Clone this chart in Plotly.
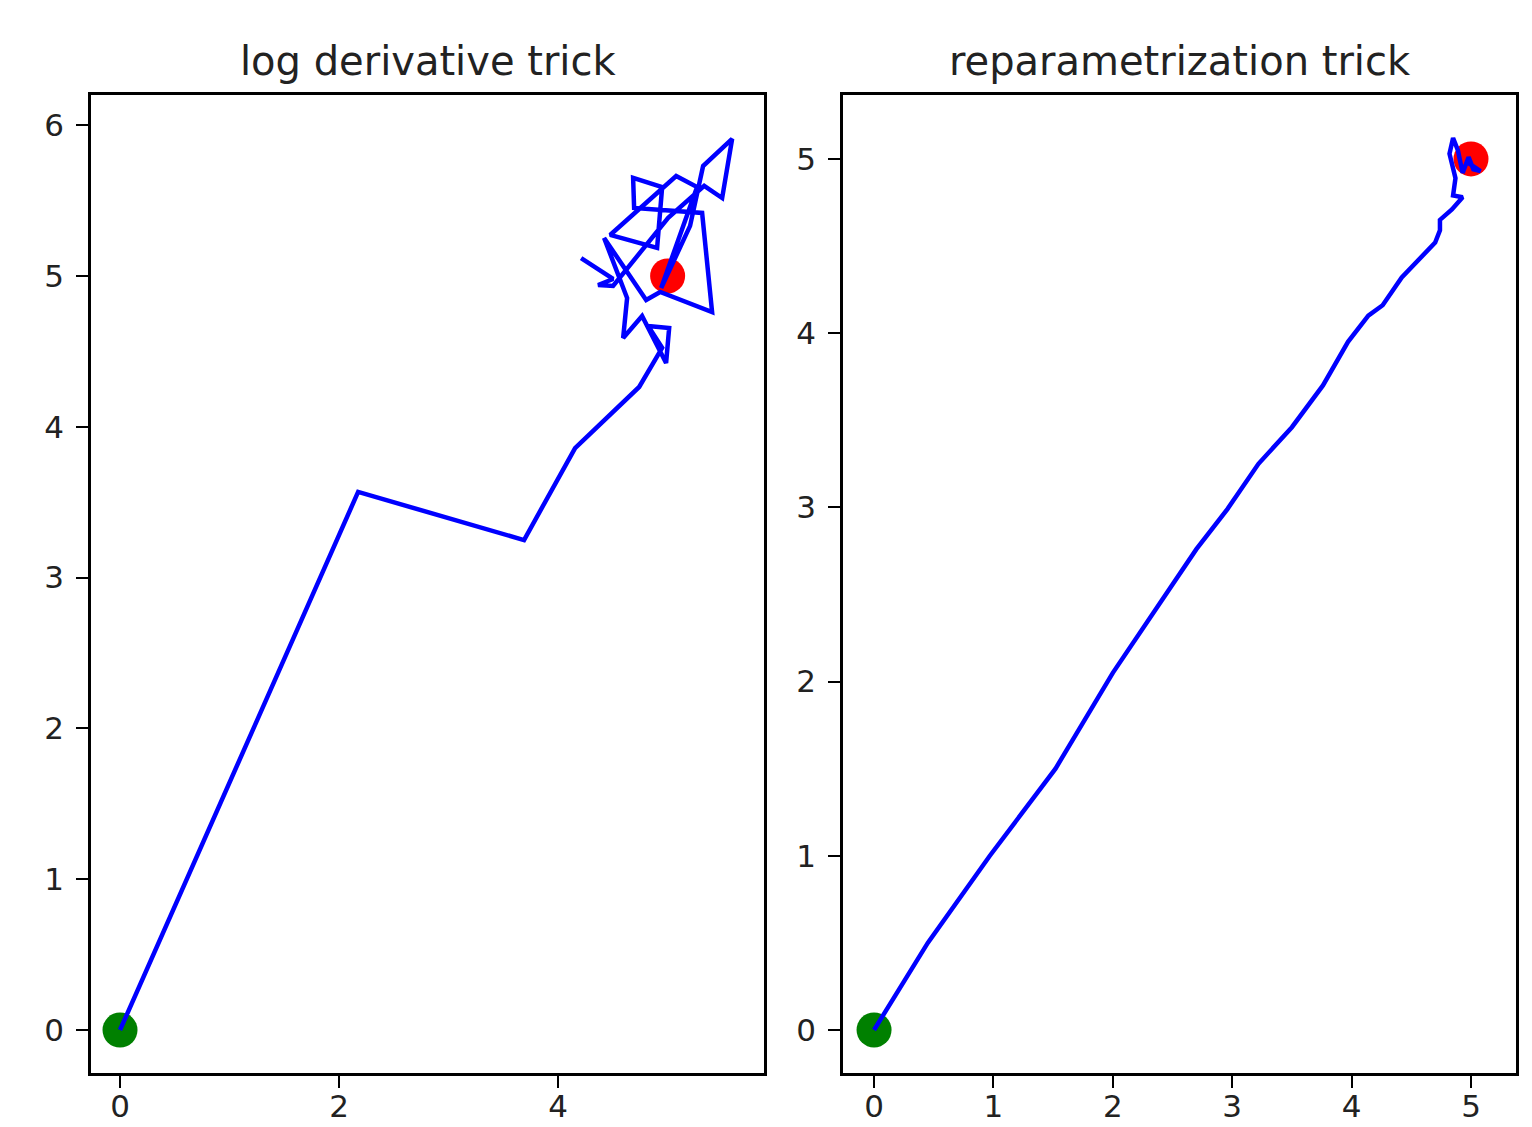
import plotly.graph_objects as go
from plotly.subplots import make_subplots

# ---- data ----
titles = ["log derivative trick", "reparametrization trick"]

left_x = [0.0, 2.174, 3.689, 4.155, 4.740, 4.950, 4.822, 5.014, 4.986, 4.767,
          4.594, 4.630, 4.420, 4.804, 4.932, 5.406, 5.315, 4.694, 4.685, 4.950,
          4.904, 4.475, 5.078, 5.269, 4.941, 5.205, 5.324, 5.589, 5.498, 5.334,
          5.005, 4.502, 4.365, 4.502, 4.210]
left_y = [0.0, 3.568, 3.249, 3.859, 4.264, 4.523, 4.668, 4.655, 4.423, 4.735,
          4.589, 4.854, 5.252, 4.841, 4.894, 4.761, 5.418, 5.451, 5.650, 5.590,
          5.186, 5.272, 5.663, 5.590, 4.920, 5.332, 5.729, 5.909, 5.517, 5.597,
          5.385, 4.934, 4.940, 4.980, 5.119]

right_x = [0.0, 0.45, 0.97, 1.52, 2.00, 2.40, 2.70, 2.96, 3.22, 3.50,
           3.76, 3.97, 4.14, 4.26, 4.42, 4.70, 4.74, 4.74, 4.84, 4.93, 4.85, 4.87,
           4.82, 4.85, 4.89, 4.93, 4.98, 5.02, 5.08, 4.97, 5.00]
right_y = [0.0, 0.50, 1.00, 1.50, 2.05, 2.45, 2.76, 2.99, 3.25, 3.46,
           3.70, 3.95, 4.10, 4.16, 4.32, 4.52, 4.59, 4.65, 4.71, 4.78, 4.79, 4.89,
           5.03, 5.12, 5.05, 4.92, 5.01, 4.94, 4.93, 4.98, 5.00]

start_pt = (0, 0)
target_pt = (5, 5)

left_xticks = [0, 2, 4]
left_yticks = [0, 1, 2, 3, 4, 5, 6]
right_xticks = [0, 1, 2, 3, 4, 5]
right_yticks = [0, 1, 2, 3, 4, 5]

# ---- figure (page body has an 8px margin) ----
OFF = 8
W, H = 1532 - OFF, 1127 - OFF
ml = 91 - OFF
mt = 95 - OFF
mr = W - (1516 - OFF)
mb = H - (1073 - OFF)
pw = W - ml - mr
ph = H - mt - mb

def px_x(p):
    return (p - OFF - ml) / pw

def px_y(p):
    return (H - mb - (p - OFF)) / ph

fig = make_subplots(rows=1, cols=2)

paths = [(left_x, left_y), (right_x, right_y)]
for i, (xs, ys) in enumerate(paths, start=1):
    fig.add_trace(go.Scatter(x=[start_pt[0]], y=[start_pt[1]], mode="markers",
                             marker=dict(color="green", size=35, line=dict(width=0))),
                  row=1, col=i)
    fig.add_trace(go.Scatter(x=[target_pt[0]], y=[target_pt[1]], mode="markers",
                             marker=dict(color="red", size=35, line=dict(width=0))),
                  row=1, col=i)
    fig.add_trace(go.Scatter(x=xs, y=ys, mode="lines",
                             line=dict(color="blue", width=4.5)),
                  row=1, col=i)

axis_common = dict(showgrid=False, zeroline=False, showline=True, mirror=True,
                   linecolor="black", linewidth=2.5, ticks="outside", ticklen=12,
                   tickwidth=2, tickcolor="black", automargin=False,
                   tickfont=dict(family="DejaVu Sans", size=31, color="#222222"))

fig.update_xaxes(**axis_common, ticklabelstandoff=-8)
fig.update_yaxes(**axis_common, ticklabelstandoff=6)

fig.update_layout(
    xaxis=dict(domain=[0, px_x(764)], range=[-0.265, 5.88], tickvals=left_xticks),
    yaxis=dict(domain=[0, 1], range=[-0.285, 6.2], tickvals=left_yticks),
    xaxis2=dict(domain=[px_x(843), 1], range=[-0.26, 5.377], tickvals=right_xticks),
    yaxis2=dict(domain=[0, 1], range=[-0.247, 5.367], tickvals=right_yticks),
)

annotations = []
centers = [(91 + 764) / 2, (843 + 1516) / 2]
for t, c in zip(titles, centers):
    annotations.append(dict(text=t, x=px_x(c), y=px_y(61), xref="paper", yref="paper",
                            xanchor="center", yanchor="middle", showarrow=False,
                            font=dict(family="DejaVu Sans", size=40, color="#222222")))

fig.update_layout(
    width=W, height=H,
    margin=dict(l=ml, r=mr, t=mt, b=mb, pad=0, autoexpand=False),
    paper_bgcolor="white",
    plot_bgcolor="white",
    showlegend=False,
    annotations=annotations,
    font=dict(family="DejaVu Sans"),
)

fig.write_html("out.html")
